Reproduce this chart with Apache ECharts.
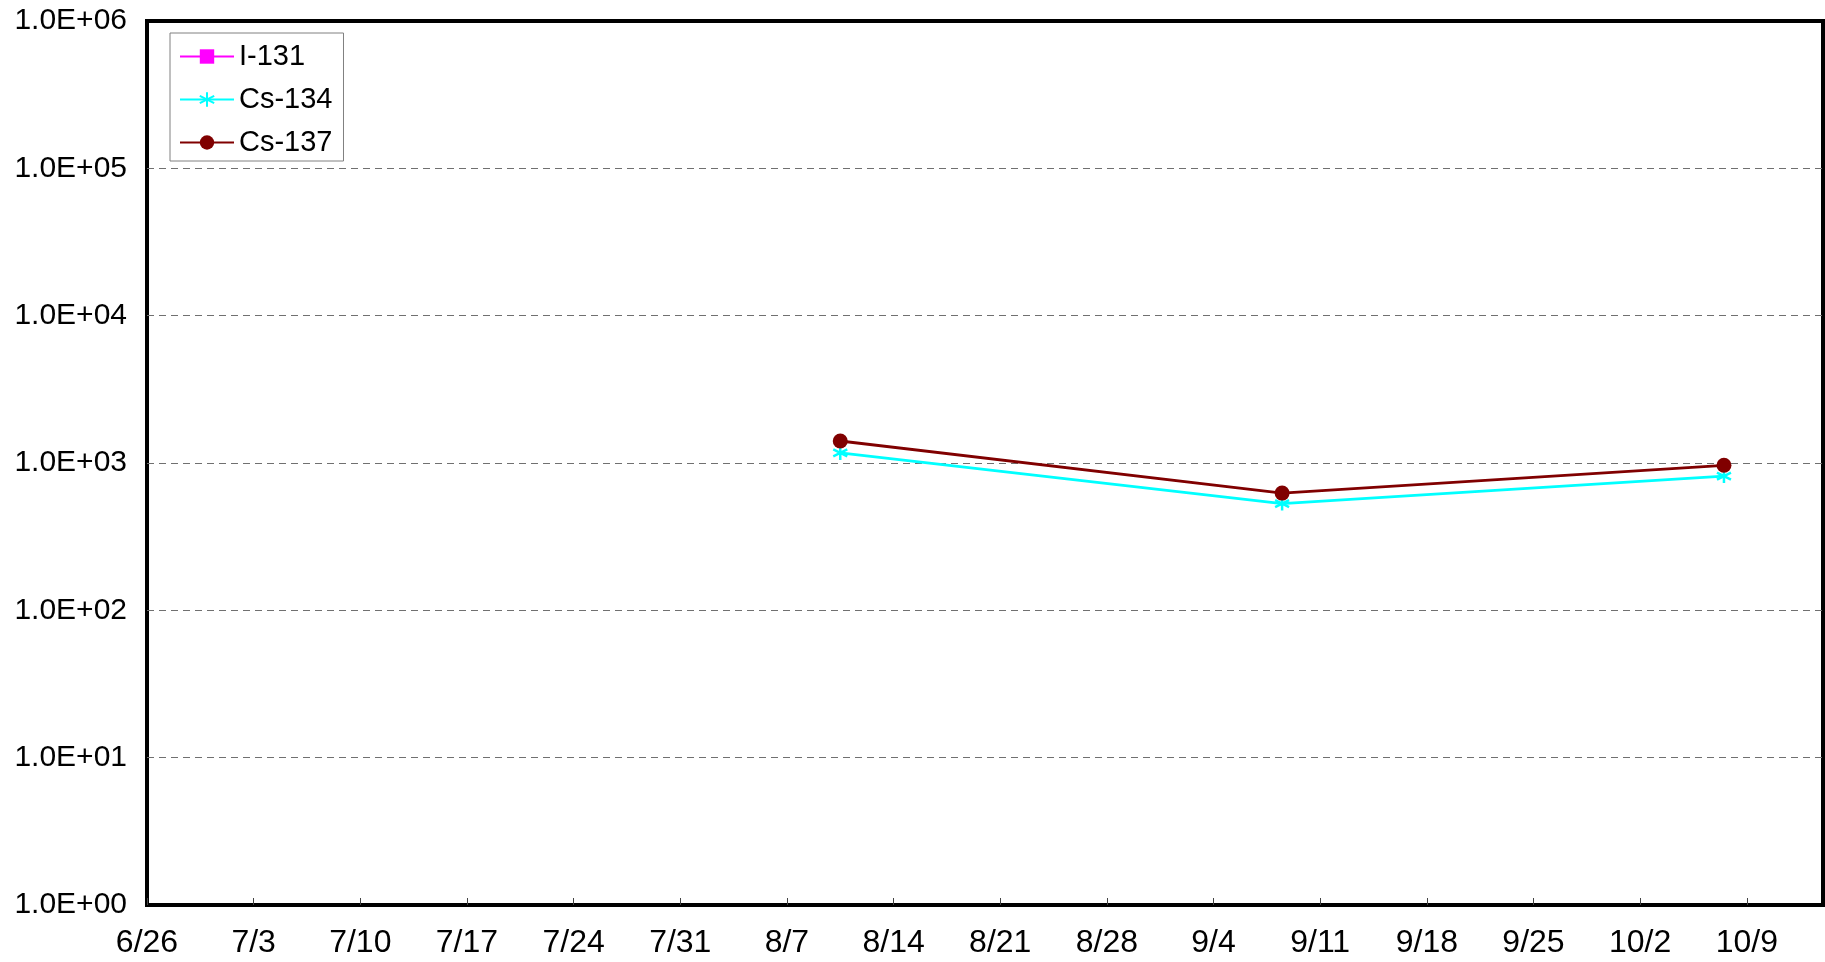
<!DOCTYPE html>
<html>
<head>
<meta charset="utf-8">
<script src="https://cdn.jsdelivr.net/npm/echarts@6/dist/echarts.min.js"></script>
<style>
html,body{margin:0;padding:0;background:#fff;}
#chart{width:1825px;height:962px;}
</style>
</head>
<body>
<div id="chart"></div>
<script>
// ---- data ----
const axisStart = '2011-06-26';
const axisEnd = '2011-10-14';
const sampleDates = ['2011-08-10', '2011-09-08', '2011-10-07'];
const seriesNames = ['I-131', 'Cs-134', 'Cs-137'];
const i131 = [];
const cs134 = [1170, 530, 815];
const cs137 = [1410, 625, 965];
const yTicks = [1, 10, 100, 1000, 10000, 100000, 1000000];

// ---- helpers ----
const MS_DAY = 86400000;
const DAY_SHIFT = 0.5; // Excel places a date's point in the middle of its day slot
function dayOffset(d) { return (Date.parse(d) - Date.parse(axisStart)) / MS_DAY; }
function pairs(vals) { return vals.map((v, i) => [dayOffset(sampleDates[i]) + DAY_SHIFT, v]); }
function fmtDate(v) {
  const d = new Date(Date.parse(axisStart) + v * MS_DAY);
  return (d.getUTCMonth() + 1) + '/' + d.getUTCDate();
}
function fmtExp(v) {
  const e = Math.round(Math.log10(v));
  return '1.0E+' + (e < 10 ? '0' : '') + e;
}

const FONT = '"Liberation Sans", Arial, sans-serif';
const starPath = 'path://M7 0V14M1 3.5L13 10.5M1 10.5L13 3.5';

const chart = echarts.init(document.getElementById('chart'), null, { renderer: 'canvas' });
chart.setOption({
  animation: false,
  backgroundColor: '#ffffff',
  grid: {
    left: 147, right: 2, top: 21, bottom: 57,
    show: true, borderColor: '#000', borderWidth: 4, backgroundColor: 'transparent'
  },
  legend: {
    orient: 'vertical',
    left: 170, top: 33,
    padding: [9, 11, 4, 9],
    itemWidth: 54, itemHeight: 18, itemGap: 14,
    borderColor: '#808080', borderWidth: 1, backgroundColor: '#fff',
    textStyle: { fontFamily: FONT, fontSize: 29, color: '#000' },
    data: seriesNames
  },
  xAxis: {
    type: 'value',
    min: 0,
    max: dayOffset(axisEnd),
    interval: 7,
    axisLine: { show: false },
    axisTick: { show: true, inside: true, length: 7, lineStyle: { color: '#444', width: 1 } },
    axisLabel: {
      formatter: fmtDate, fontFamily: FONT, fontSize: 32, color: '#000',
      margin: 22, showMaxLabel: false
    },
    splitLine: { show: false }
  },
  yAxis: {
    type: 'log',
    logBase: 10,
    min: yTicks[0],
    max: yTicks[yTicks.length - 1],
    axisLine: { show: false },
    axisTick: { show: false },
    axisLabel: {
      formatter: fmtExp, fontFamily: FONT, fontSize: 30, color: '#000', margin: 20,
      padding: [5, 0, 0, 0]
    },
    splitLine: {
      show: true, showMinLine: false, showMaxLine: false,
      lineStyle: { color: '#707070', width: 1.2, type: [7, 5] }
    }
  },
  series: [
    {
      name: seriesNames[0], type: 'line', data: pairs(i131),
      symbol: 'rect', symbolSize: 13,
      lineStyle: { color: '#FF00FF', width: 2.8 },
      itemStyle: { color: '#FF00FF' }
    },
    {
      name: seriesNames[1], type: 'line', data: pairs(cs134),
      symbol: starPath, symbolSize: 14,
      lineStyle: { color: '#00FFFF', width: 2.8 },
      itemStyle: { color: '#00FFFF', borderColor: '#00FFFF', borderWidth: 2.5 }
    },
    {
      name: seriesNames[2], type: 'line', data: pairs(cs137),
      symbol: 'circle', symbolSize: 15,
      lineStyle: { color: '#800000', width: 2.8 },
      itemStyle: { color: '#800000', borderWidth: 0 }
    }
  ]
});
</script>
</body>
</html>
